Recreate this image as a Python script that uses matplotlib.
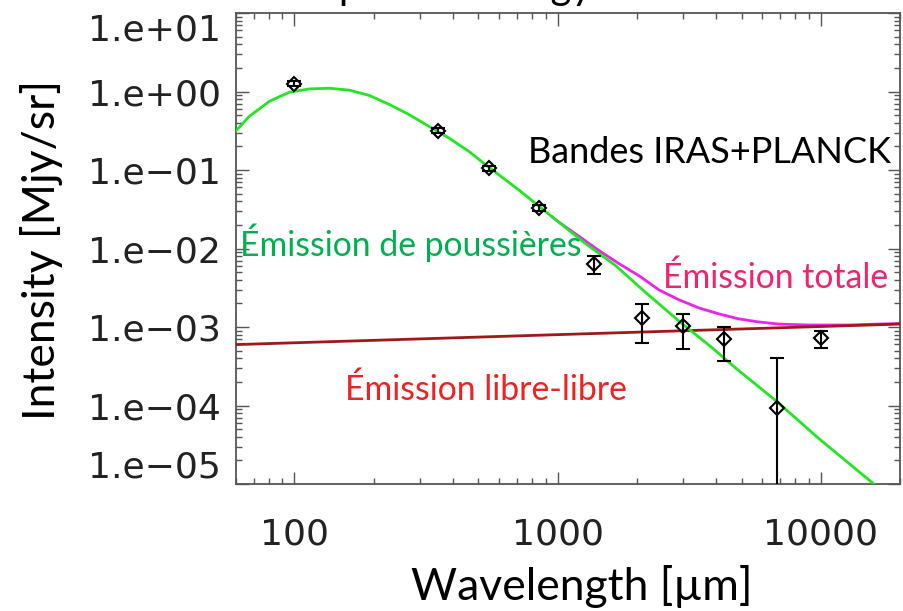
import matplotlib
matplotlib.use("Agg")
import matplotlib.pyplot as plt
from matplotlib.ticker import FixedLocator, FixedFormatter, LogLocator, NullFormatter

band_wl = [100, 350, 550, 850, 1380, 2100, 3000, 4300, 6800, 10000]
band_val = [1.26, 0.316, 0.105, 0.0329, 0.0064, 1.29e-3, 1.03e-3, 6.95e-4, 9.4e-5, 7.3e-4]
band_lo = [1.16, 0.292, 0.097, 0.0303, 4.8e-3, 6.3e-4, 5.3e-4, 3.7e-4, 1e-7, 5.4e-4]
band_hi = [1.37, 0.342, 0.114, 0.0357, 8.1e-3, 1.95e-3, 1.48e-3, 1.0e-3, 4.07e-4, 8.9e-4]

# dust emission curve
dust_wl = [59.7, 67.4, 80.4, 95.7, 114, 136, 162, 193, 230, 273, 325, 387, 461, 534,
           714, 955, 1279, 1662, 2162, 2891, 3866, 4741, 6820, 9817, 16140, 20000]
dust_val = [0.310, 0.482, 0.751, 0.98, 1.08, 1.10, 1.04, 0.889, 0.681, 0.507, 0.359,
            0.255, 0.172, 0.116, 0.0554, 0.0252, 0.0115, 0.00605, 0.00275, 0.00119,
            5.44e-4, 3.01e-4, 1.12e-4, 3.81e-5, 9.62e-6, 5.5e-6]

# free-free emission
ff_wl = [60, 20000]
ff_val = [5.97e-4, 1.09e-3]

# total emission (only where it leaves the dust curve)
tot_wl = [955, 1014, 1208, 1436, 1709, 2036, 2425, 2891, 3443, 4102, 4877, 5807,
          6918, 8995, 12760, 20000]
tot_val = [0.0252, 0.0215, 0.01426, 0.00942, 0.00643, 0.00451, 0.00298, 0.00222,
           0.00175, 0.00147, 0.00127, 0.00116, 0.00109, 0.00106, 0.00106, 0.00111]

ytick_vals = [1e1, 1e0, 1e-1, 1e-2, 1e-3, 1e-4, 1e-5]
ytick_labels = ["1.e+01", "1.e+00", "1.e\u221201", "1.e\u221202", "1.e\u221203",
                "1.e\u221204", "1.e\u221205"]
xtick_vals = [100, 1000, 10000]
xtick_labels = ["100", "1000", "10000"]

W, H = 904, 611
fig = plt.figure(figsize=(W / 100, H / 100), dpi=100)
ax = fig.add_axes([236 / W, 1 - 484 / H, (900 - 236) / W, (484 - 13) / H])

ax.plot(tot_wl, tot_val, color="#EE22EE", lw=2.0, zorder=2)
ax.plot(ff_wl, ff_val, color="#A01818", lw=2.0, zorder=3)
ax.plot(dust_wl, dust_val, color="#22E622", lw=2.0, zorder=4)

yerr = [[v - lo for v, lo in zip(band_val, band_lo)],
        [hi - v for v, hi in zip(band_val, band_hi)]]
ax.errorbar(band_wl, band_val, yerr=yerr, fmt="none", ecolor="black",
            elinewidth=1.5, capsize=5, capthick=1.5, zorder=5)
ax.plot(band_wl, band_val, "D", ms=7, mfc="none", mec="black", mew=1.5, zorder=6)

ax.set_xscale("log")
ax.set_yscale("log")
ax.set_xlim(60, 20000)
ax.set_ylim(1e-5, 10)

ax.yaxis.set_major_locator(FixedLocator(ytick_vals))
ax.yaxis.set_major_formatter(FixedFormatter(ytick_labels))
ax.yaxis.set_minor_locator(LogLocator(base=10, subs=range(2, 10), numticks=20))
ax.yaxis.set_minor_formatter(NullFormatter())
ax.xaxis.set_major_locator(FixedLocator(xtick_vals))
ax.xaxis.set_major_formatter(FixedFormatter(xtick_labels))
ax.xaxis.set_minor_locator(LogLocator(base=10, subs=range(2, 10), numticks=20))
ax.xaxis.set_minor_formatter(NullFormatter())

for s in ax.spines.values():
    s.set_color("#555555")
    s.set_linewidth(1.3)
ax.tick_params(which="both", direction="in", top=True, right=True, color="#555555",
               width=1.0)
ax.tick_params(which="major", length=9)
ax.tick_params(which="minor", length=4.5)
ax.tick_params(axis="y", which="major", labelsize=26, pad=11, labelcolor="#222222")
ax.tick_params(axis="x", which="major", labelsize=26, pad=24, labelcolor="#222222")
ylabs = ax.get_yticklabels()
ylabs[0].set_va("top")
ylabs[-1].set_va("bottom")

calibri = "Lato"
fig.text(582 / W, 1 - 586 / H, "Wavelength [\u00b5m]", family=calibri, fontsize=32,
         ha="center", va="center")
fig.text(42 / W, 1 - 250 / H, "Intensity [Mjy/sr]", family=calibri, fontsize=32,
         ha="center", va="center", rotation=90)
# slide title, cut off by the top edge as in the original screenshot
fig.text(317 / W, 1 + 1 / H, "Spectral energy distribution", family=calibri,
         fontsize=29, ha="left", va="baseline")

fig.text(528 / W, 1 - 163 / H, "Bandes IRAS+PLANCK", family=calibri, fontsize=26,
         ha="left", va="baseline", color="black")
fig.text(240 / W, 1 - 256 / H, "\u00c9mission de poussi\u00e8res", family=calibri,
         fontsize=24.3, ha="left", va="baseline", color="#00B050")
fig.text(663 / W, 1 - 288 / H, "\u00c9mission totale", family=calibri, fontsize=24.3,
         ha="left", va="baseline", color="#F0246E")
fig.text(345 / W, 1 - 400 / H, "\u00c9mission libre-libre", family=calibri,
         fontsize=24.3, ha="left", va="baseline", color="#EE2222")

fig.savefig("out.png", dpi=100)
